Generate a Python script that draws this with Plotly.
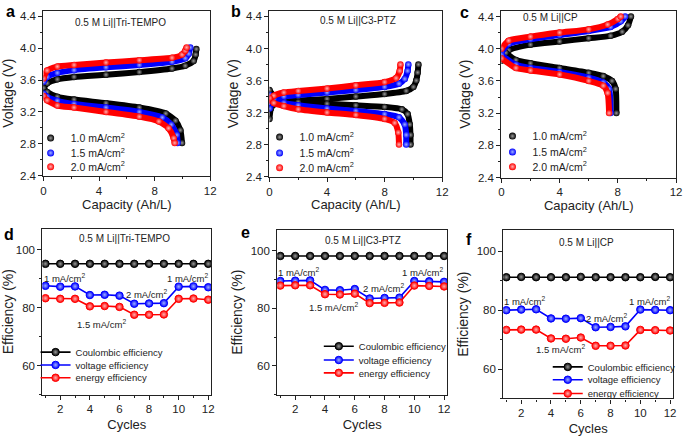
import plotly.graph_objects as go

W, H = 685, 439
FONT = "Liberation Sans, Arial, sans-serif"

# ---------------- data: charge/discharge curves (capacity Ah/L, voltage V) ----------------
rates = ["1.0", "1.5", "2.0"]
colors = ["#000000", "#0000ff", "#ff0000"]
light = ["#9a9a9a", "#9fb0ff", "#ffb0b0"]

# Panel a: Li||Tri-TEMPO
a_chg_cap = [
    [0, 0.26, 1.0, 2.2, 4.5, 6.9, 9.25, 10.2, 10.8, 10.95, 11.0],
    [0, 0.26, 1.0, 2.2, 4.5, 6.9, 9.25, 10.2, 10.45, 10.56],
    [0, 0.26, 1.0, 2.2, 4.5, 6.9, 9.25, 9.97, 10.2, 10.3],
]
a_chg_v = [
    [3.50, 3.56, 3.61, 3.64, 3.667, 3.70, 3.745, 3.78, 3.84, 3.92, 3.99],
    [3.58, 3.64, 3.69, 3.725, 3.76, 3.79, 3.83, 3.875, 3.93, 4.01],
    [3.62, 3.72, 3.77, 3.79, 3.82, 3.85, 3.88, 3.92, 3.97, 4.01],
]
a_dis_cap = [
    [0, 0.26, 1.0, 2.2, 4.5, 6.9, 8.8, 9.5, 9.85, 9.97],
    [0, 0.26, 1.0, 2.2, 4.5, 6.9, 8.55, 9.2, 9.6, 9.65],
    [0, 0.26, 1.0, 2.2, 4.5, 6.9, 8.3, 9.0, 9.37, 9.44],
]
a_dis_v = [
    [3.50, 3.45, 3.39, 3.355, 3.31, 3.255, 3.18, 3.09, 2.97, 2.81],
    [3.43, 3.39, 3.34, 3.30, 3.255, 3.20, 3.13, 3.04, 2.91, 2.81],
    [3.40, 3.345, 3.28, 3.255, 3.20, 3.14, 3.08, 2.995, 2.87, 2.81],
]

# Panel b: Li||C3-PTZ
b_chg_cap = [
    [0, 0.1, 0.3, 1, 2, 4, 6, 8, 9.5, 10.0, 10.2, 10.3, 10.35],
    [0, 0.3, 1, 2, 4, 6, 8, 9.0, 9.4, 9.6, 9.65],
    [0, 0.3, 1, 2, 4, 6, 8, 8.8, 9.05, 9.1],
]
b_chg_v = [
    [3.12, 3.25, 3.30, 3.33, 3.35, 3.37, 3.40, 3.43, 3.47, 3.52, 3.60, 3.70, 3.80],
    [3.25, 3.35, 3.40, 3.42, 3.45, 3.48, 3.52, 3.56, 3.62, 3.72, 3.80],
    [3.35, 3.41, 3.45, 3.47, 3.50, 3.54, 3.58, 3.63, 3.72, 3.80],
]
b_dis_cap = [
    [0, 0.3, 1, 2, 4, 6, 8, 9.2, 9.6, 9.75, 9.8, 9.8],
    [0, 0.3, 1, 2, 4, 6, 8, 9.0, 9.4, 9.5, 9.5],
    [0, 0.3, 1, 2, 4, 6, 8, 8.7, 8.95, 9.0],
]
b_dis_v = [
    [3.48, 3.41, 3.36, 3.33, 3.31, 3.29, 3.27, 3.24, 3.18, 3.05, 2.92, 2.80],
    [3.42, 3.37, 3.32, 3.29, 3.25, 3.22, 3.18, 3.14, 3.05, 2.92, 2.80],
    [3.38, 3.32, 3.28, 3.24, 3.20, 3.17, 3.12, 3.07, 2.95, 2.80],
]

# Panel c: Li||CP
c_chg_cap = [
    [0, 0.5, 2, 4, 6, 7.5, 8.3, 8.7, 8.9],
    [0, 0.5, 2, 4, 6, 7.5, 8.2, 8.5],
    [0, 0.5, 2, 4, 6, 7.3, 8.0, 8.2],
]
c_chg_v = [
    [3.85, 3.98, 4.05, 4.09, 4.13, 4.16, 4.21, 4.29, 4.40],
    [3.95, 4.06, 4.12, 4.17, 4.22, 4.27, 4.34, 4.40],
    [4.00, 4.10, 4.15, 4.20, 4.24, 4.30, 4.37, 4.40],
]
c_dis_cap = [
    [0, 0.3, 1, 2, 4, 6, 7, 7.6, 7.85, 7.9],
    [0, 1, 2, 4, 6, 7, 7.4, 7.5],
    [0, 1, 2, 4, 6, 7, 7.3, 7.4],
]
c_dis_v = [
    [4.00, 3.95, 3.86, 3.82, 3.76, 3.70, 3.66, 3.60, 3.50, 3.20],
    [3.92, 3.80, 3.76, 3.71, 3.64, 3.58, 3.50, 3.20],
    [3.88, 3.76, 3.73, 3.68, 3.60, 3.54, 3.45, 3.20],
]

# ---------------- data: efficiencies vs cycle ----------------
cycles = list(range(1, 13))
d_ce = [95.2, 95.2, 95.2, 95.2, 95.2, 95.2, 95.2, 95.2, 95.2, 95.2, 95.2, 95.2]
d_ve = [87.6, 87.3, 87.4, 84.4, 84.5, 84.2, 81.4, 81.5, 81.6, 87.3, 87.4, 87.1]
d_ee = [83.3, 83.1, 83.1, 80.5, 80.6, 80.3, 77.6, 77.6, 77.7, 83.1, 83.2, 82.8]
e_ce = [98.2, 98.2, 98.2, 98.2, 98.2, 98.2, 98.2, 98.2, 98.2, 98.2, 98.2, 98.2]
e_ve = [89.5, 89.6, 89.7, 86.4, 86.3, 86.7, 83.4, 83.6, 83.7, 89.5, 89.4, 89.2]
e_ee = [87.9, 88.0, 88.0, 84.9, 84.8, 85.1, 81.8, 81.9, 82.0, 87.9, 87.8, 87.6]
f_ce = [91.2, 91.3, 91.2, 91.2, 91.2, 91.3, 91.2, 91.2, 91.2, 91.2, 91.3, 91.2]
f_ve = [80.0, 80.2, 80.3, 77.2, 77.1, 77.3, 74.2, 74.3, 74.5, 80.2, 80.1, 80.0]
f_ee = [73.3, 73.4, 73.4, 70.4, 70.3, 70.7, 67.9, 67.9, 68.0, 73.3, 73.2, 73.1]
eff_names = ["Coulombic efficiency", "voltage efficiency", "energy efficiency"]

titles_top = ["0.5 M Li||Tri-TEMPO", "0.5 M Li||C3-PTZ", "0.5 M Li||CP"]
titles_bot = ["0.5 M Li||Tri-TEMPO", "0.5 M Li||C3-PTZ", "0.5 M Li||CP"]
panel_letters = ["a", "b", "c", "d", "e", "f"]
rate_labels = ["1 mA/cm<sup>2</sup>", "1.5 mA/cm<sup>2</sup>", "2 mA/cm<sup>2</sup>", "1 mA/cm<sup>2</sup>"]

# ---------------- layout geometry (pixels) ----------------
def px(x):
    return x / W

def py(y):
    return 1 - y / H

boxes = {  # x0, x1, ytop, ybottom in pixels
    1: (41, 210, 11, 178),
    2: (270, 445, 11, 179),
    3: (505, 682, 11, 180),
    4: (40, 211, 232, 400),
    5: (278, 450, 233, 400),
    6: (507, 679, 233, 404),
}

fig = go.Figure()

def ax(n):
    return ("x" if n == 1 else f"x{n}"), ("y" if n == 1 else f"y{n}")

legend_count = [0]
legend_layouts = {}

def new_legend(xpx, ypx, size):
    legend_count[0] += 1
    k = legend_count[0]
    key = "legend" if k == 1 else f"legend{k}"
    legend_layouts[key] = dict(
        x=px(xpx), y=py(ypx), xanchor="left", yanchor="middle",
        bgcolor="rgba(0,0,0,0)", borderwidth=0, itemwidth=30,
        font=dict(family=FONT, size=size, color="#222"),
        tracegroupgap=0,
    )
    return key

# top panels: curves
top_sets = [
    (a_chg_cap, a_chg_v, a_dis_cap, a_dis_v),
    (b_chg_cap, b_chg_v, b_dis_cap, b_dis_v),
    (c_chg_cap, c_chg_v, c_dis_cap, c_dis_v),
]
top_leg = [(28, [140, 155, 169]), (260, [139, 155, 170]), (496, [138, 154, 169])]
for p, (cc, cv, dc, dv) in enumerate(top_sets):
    n = p + 1
    xa, ya = ax(n)
    for i in range(3):
        for xs, ys in ((cc[i], cv[i]), (dc[i], dv[i])):
            fig.add_trace(go.Scatter(
                x=xs, y=ys, xaxis=xa, yaxis=ya, mode="lines+markers",
                line=dict(color=colors[i], width=6, shape="spline", smoothing=0.6),
                marker=dict(size=6.5, color=colors[i],
                            gradient=dict(type="radial", color=light[i])),
                showlegend=False, hoverinfo="skip"))
    lx, lys = top_leg[p]
    for i in range(3):
        key = new_legend(lx, lys[i], 10.5)
        fig.add_trace(go.Scatter(
            x=[None], y=[None], xaxis=xa, yaxis=ya, mode="markers",
            marker=dict(size=7, color=colors[i], gradient=dict(type="radial", color=light[i])),
            name=f"{rates[i]} mA/cm<sup>2</sup>", legend=key, showlegend=True))

# bottom panels: efficiencies
bot_sets = [(d_ce, d_ve, d_ee), (e_ce, e_ve, e_ee), (f_ce, f_ve, f_ee)]
bot_leg = [(33, [357, 370, 383]), (320, [351, 365, 378]), (552, [372, 385, 399])]
for p, series in enumerate(bot_sets):
    n = p + 4
    xa, ya = ax(n)
    lx, lys = bot_leg[p]
    for i in range(3):
        key = new_legend(lx, lys[i], 9.5)
        fig.add_trace(go.Scatter(
            x=cycles, y=series[i], xaxis=xa, yaxis=ya, mode="lines+markers",
            line=dict(color=colors[i], width=1.6),
            marker=dict(size=7.5, color=colors[i], gradient=dict(type="radial", color=light[i]),
                        line=dict(color=colors[i], width=1)),
            name=eff_names[i], legend=key, showlegend=True, hoverinfo="skip"))

# axes
axis_font = dict(family=FONT, size=11.5, color="#222")
xtitle_font = dict(family=FONT, size=13, color="#222")
ytitle_font = dict(family=FONT, size=14, color="#222")
layout = dict(width=W, height=H, margin=dict(l=0, r=0, t=0, b=0),
              plot_bgcolor="white", paper_bgcolor="white", showlegend=True)
for n, (x0, x1, yt, yb) in boxes.items():
    xk = "xaxis" if n == 1 else f"xaxis{n}"
    yk = "yaxis" if n == 1 else f"yaxis{n}"
    ya_name = "y" if n == 1 else f"y{n}"
    xa_name = "x" if n == 1 else f"x{n}"
    common = dict(showline=True, linecolor="#222", linewidth=1.3, mirror=True,
                  ticks="outside", ticklen=4, tickwidth=1.1, tickcolor="#222",
                  showgrid=False, zeroline=False, tickfont=axis_font)
    if n <= 3:
        layout[xk] = dict(common, domain=[px(x0), px(x1)], anchor=ya_name,
                          range=[0, 12], tick0=0, dtick=4,
                          minor=dict(ticks="outside", ticklen=2, dtick=2, tickcolor="#222"),
                          title=dict(text="Capacity (Ah/L)", standoff=0, font=xtitle_font))
        layout[yk] = dict(common, domain=[py(yb), py(yt)], anchor=xa_name,
                          range=[2.4, 4.47], tick0=2.4, dtick=0.4, tickformat=".1f",
                          minor=dict(ticks="outside", ticklen=2, dtick=0.2, tickcolor="#222"),
                          title=dict(text="Voltage (V)", standoff=4, font=ytitle_font))
    else:
        layout[xk] = dict(common, domain=[px(x0), px(x1)], anchor=ya_name,
                          range=[0.8, 12.2], tick0=0, dtick=2,
                          minor=dict(ticks="outside", ticklen=2, dtick=1, tickcolor="#222"),
                          title=dict(text="Cycles", standoff=5, font=xtitle_font))
        layout[yk] = dict(common, domain=[py(yb), py(yt)], anchor=xa_name,
                          range=[50, 107.3], tick0=60, dtick=20,
                          minor=dict(ticks="outside", ticklen=2, dtick=10, tickcolor="#222"),
                          title=dict(text="Efficiency (%)", standoff=4, font=ytitle_font))
layout.update(legend_layouts)

annotations = []
# panel letters
letter_pos = [(8, 12), (236, 12), (468, 13), (6, 238), (246, 236), (472, 243)]
for L, (lx, ly) in zip(panel_letters, letter_pos):
    annotations.append(dict(text=f"<b>{L}</b>", x=px(lx), y=py(ly), xref="paper", yref="paper",
                            xanchor="center", yanchor="middle", showarrow=False,
                            font=dict(family=FONT, size=16, color="#000")))
# panel titles
title_pos = [(119, 23), (360, 21), (555, 18), (123, 242), (365, 244), (591, 246)]
for t, (tx, ty) in zip(titles_top + titles_bot, title_pos):
    annotations.append(dict(text=t, x=px(tx), y=py(ty), xref="paper", yref="paper",
                            xanchor="center", yanchor="middle", showarrow=False,
                            font=dict(family=FONT, size=10, color="#222")))
# rate labels inside efficiency panels (data coordinates)
rate_pos = {
    4: [(2.3, 90.2), (4.78, 74.4), (7.83, 84.6), (10.57, 90.2)],
    5: [(2.22, 92.5), (4.58, 80.3), (7.9, 87.1), (10.56, 92.5)],
    6: [(2.22, 83.0), (4.61, 66.8), (7.76, 77.2), (10.6, 83.0)],
}
for n, pts in rate_pos.items():
    for lab, (cx, cy) in zip(rate_labels, pts):
        annotations.append(dict(text=lab, x=cx, y=cy, xref=f"x{n}", yref=f"y{n}",
                                xanchor="center", yanchor="middle", showarrow=False,
                                font=dict(family=FONT, size=9.5, color="#222")))
layout["annotations"] = annotations
fig.update_layout(**layout)
fig.write_html("out.html", config={"displayModeBar": False},
               post_script="document.body.style.margin='0';document.body.style.overflow='hidden';")
